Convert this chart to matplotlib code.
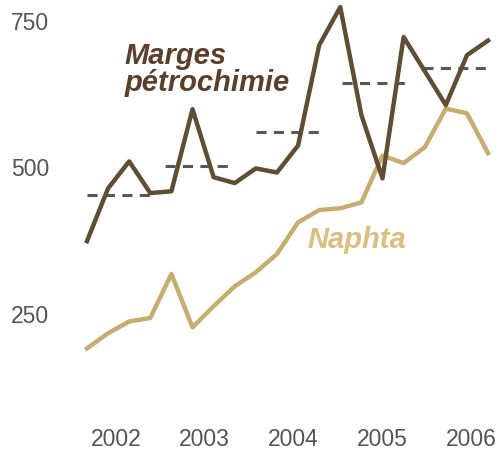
import numpy as np
import matplotlib
matplotlib.use('Agg')
import matplotlib.pyplot as plt

plt.rcParams['font.family'] = ['Liberation Sans', 'DejaVu Sans']

# Quarterly values (index 0..19)
marges = [374, 464, 510, 456, 459, 599, 483, 473, 498, 491,
          537, 708, 773, 589, 481, 722, 664, 606, 691, 716]
naphta = [191, 217, 237, 243, 318, 227, 263, 297, 321, 352,
          406, 427, 430, 440, 520, 507, 534, 600, 592, 524]

# Annual averages of the margins (dashed segments)
moy_debut = [0.0, 3.7, 8.0, 12.1, 15.9]
moy_fin = [3.1, 6.8, 11.1, 15.2, 19.2]
moy_val = [452, 502, 560, 643, 670]

annees = ['2002', '2003', '2004', '2005', '2006']
annees_pos = [1.38, 5.55, 9.76, 13.98, 18.2]
yticks = [250, 500, 750]

fig = plt.figure(figsize=(5.0, 4.53), dpi=100)
ax = fig.add_axes([0.16, 0.0728, 0.83, 0.927])

x = np.arange(len(marges))
for d, f, v in zip(moy_debut, moy_fin, moy_val):
    ax.plot([d, f], [v, v], color='#55585c', lw=2.2, dashes=(3.3, 2.4),
            solid_capstyle='butt', dash_capstyle='butt')
ax.plot(x, naphta, color='#c8ad70', lw=3.2)
ax.plot(x, marges, color='#5f4e33', lw=3.2)

ax.text(1.8, 713, 'Marges\npétrochimie', color='#5c3f2a', fontsize=21,
        fontweight='bold', fontstyle='italic', va='top', ha='left', linespacing=0.95)
ax.text(10.45, 376, 'Naphta', color='#dcbe82', fontsize=21,
        fontweight='bold', fontstyle='italic', va='center', ha='left')

ax.set_xlim(-0.33, 19.33)
ax.set_ylim(69, 785)
ax.set_xticks(annees_pos)
ax.set_xticklabels(annees)
ax.set_yticks(yticks)
ax.tick_params(length=0, labelsize=16.5, colors='#555555')
ax.tick_params(axis='x', pad=6)
ax.tick_params(axis='y', pad=22)
for s in ax.spines.values():
    s.set_visible(False)

fig.savefig('out.png', dpi=100)
